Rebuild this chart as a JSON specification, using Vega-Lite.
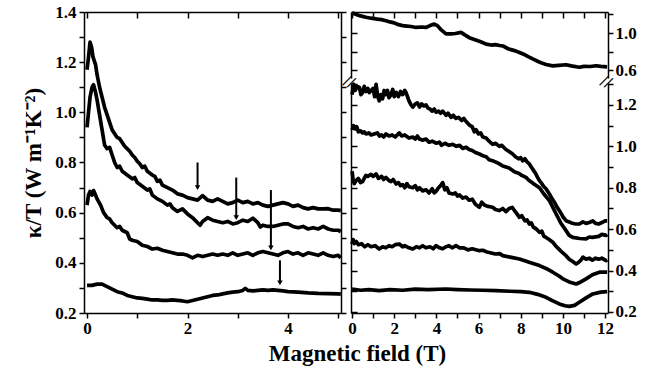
{
  "$schema": "https://vega.github.io/schema/vega-lite/v6.json",
  "background": "white",
  "padding": {"left": 22, "top": 3, "right": 5, "bottom": 5},
  "config": {
    "view": {"stroke": null},
    "font": "Times New Roman",
    "axis": {
      "grid": false,
      "labelFont": "Times New Roman",
      "labelFontWeight": "bold",
      "labelFontSize": 17,
      "labelColor": "black",
      "tickColor": "black",
      "tickWidth": 1.5,
      "domainColor": "black",
      "domainWidth": 1.5,
      "titleFont": "Times New Roman",
      "titleFontWeight": "bold",
      "titleFontSize": 23,
      "titleColor": "black"
    },
    "title": {"font": "Times New Roman"},
    "line": {"color": "black", "strokeWidth": 3.7, "strokeJoin": "round"}
  },
  "title": {
    "text": "Magnetic field (T)",
    "orient": "bottom",
    "anchor": "middle",
    "font": "Times New Roman",
    "fontSize": 23,
    "fontWeight": "bold",
    "color": "black",
    "offset": 7,
    "dx": 28
  },
  "datasets": {
    "left": [
      {"B": 0, "k": 1.17, "c": "a1"}, {"B": 0.03, "k": 1.22, "c": "a1"}, {"B": 0.06, "k": 1.28, "c": "a1"}, {"B": 0.09, "k": 1.26, "c": "a1"}, {"B": 0.12, "k": 1.22, "c": "a1"}, {"B": 0.17, "k": 1.19, "c": "a1"}, {"B": 0.2, "k": 1.15, "c": "a1"}, {"B": 0.25, "k": 1.1, "c": "a1"}, {"B": 0.3, "k": 1.06, "c": "a1"}, {"B": 0.35, "k": 1.02, "c": "a1"}, {"B": 0.4, "k": 0.99, "c": "a1"}, {"B": 0.45, "k": 0.96, "c": "a1"}, {"B": 0.5, "k": 0.93, "c": "a1"}, {"B": 0.55, "k": 0.915, "c": "a1"}, {"B": 0.6, "k": 0.9, "c": "a1"}, {"B": 0.65, "k": 0.895, "c": "a1"}, {"B": 0.7, "k": 0.88, "c": "a1"}, {"B": 0.75, "k": 0.865, "c": "a1"}, {"B": 0.8, "k": 0.855, "c": "a1"}, {"B": 0.85, "k": 0.845, "c": "a1"}, {"B": 0.9, "k": 0.83, "c": "a1"}, {"B": 0.95, "k": 0.82, "c": "a1"}, {"B": 1.0, "k": 0.805, "c": "a1"}, {"B": 1.05, "k": 0.795, "c": "a1"}, {"B": 1.1, "k": 0.78, "c": "a1"}, {"B": 1.15, "k": 0.785, "c": "a1"}, {"B": 1.2, "k": 0.765, "c": "a1"}, {"B": 1.3, "k": 0.75, "c": "a1"}, {"B": 1.35, "k": 0.745, "c": "a1"}, {"B": 1.4, "k": 0.725, "c": "a1"}, {"B": 1.45, "k": 0.73, "c": "a1"}, {"B": 1.5, "k": 0.71, "c": "a1"}, {"B": 1.6, "k": 0.7, "c": "a1"}, {"B": 1.7, "k": 0.69, "c": "a1"}, {"B": 1.8, "k": 0.675, "c": "a1"}, {"B": 1.9, "k": 0.67, "c": "a1"}, {"B": 2.0, "k": 0.66, "c": "a1"}, {"B": 2.1, "k": 0.655, "c": "a1"}, {"B": 2.2, "k": 0.65, "c": "a1"}, {"B": 2.3, "k": 0.668, "c": "a1"}, {"B": 2.4, "k": 0.65, "c": "a1"}, {"B": 2.5, "k": 0.645, "c": "a1"}, {"B": 2.6, "k": 0.655, "c": "a1"}, {"B": 2.7, "k": 0.645, "c": "a1"}, {"B": 2.8, "k": 0.635, "c": "a1"}, {"B": 2.9, "k": 0.64, "c": "a1"}, {"B": 3.0, "k": 0.65, "c": "a1"}, {"B": 3.1, "k": 0.64, "c": "a1"}, {"B": 3.2, "k": 0.645, "c": "a1"}, {"B": 3.3, "k": 0.635, "c": "a1"}, {"B": 3.4, "k": 0.64, "c": "a1"}, {"B": 3.5, "k": 0.63, "c": "a1"}, {"B": 3.6, "k": 0.625, "c": "a1"}, {"B": 3.7, "k": 0.63, "c": "a1"}, {"B": 3.8, "k": 0.635, "c": "a1"}, {"B": 3.9, "k": 0.64, "c": "a1"}, {"B": 4.0, "k": 0.635, "c": "a1"}, {"B": 4.1, "k": 0.625, "c": "a1"}, {"B": 4.2, "k": 0.63, "c": "a1"}, {"B": 4.3, "k": 0.62, "c": "a1"}, {"B": 4.4, "k": 0.615, "c": "a1"}, {"B": 4.5, "k": 0.62, "c": "a1"}, {"B": 4.6, "k": 0.615, "c": "a1"}, {"B": 4.7, "k": 0.615, "c": "a1"}, {"B": 4.8, "k": 0.616, "c": "a1"}, {"B": 4.9, "k": 0.61, "c": "a1"}, {"B": 5.0, "k": 0.61, "c": "a1"}, {"B": 5.05, "k": 0.608, "c": "a1"},
      {"B": 0, "k": 0.94, "c": "a2"}, {"B": 0.03, "k": 1.0, "c": "a2"}, {"B": 0.06, "k": 1.06, "c": "a2"}, {"B": 0.1, "k": 1.1, "c": "a2"}, {"B": 0.13, "k": 1.11, "c": "a2"}, {"B": 0.17, "k": 1.08, "c": "a2"}, {"B": 0.2, "k": 1.05, "c": "a2"}, {"B": 0.25, "k": 0.99, "c": "a2"}, {"B": 0.3, "k": 0.93, "c": "a2"}, {"B": 0.35, "k": 0.87, "c": "a2"}, {"B": 0.4, "k": 0.855, "c": "a2"}, {"B": 0.45, "k": 0.86, "c": "a2"}, {"B": 0.5, "k": 0.83, "c": "a2"}, {"B": 0.55, "k": 0.8, "c": "a2"}, {"B": 0.6, "k": 0.78, "c": "a2"}, {"B": 0.65, "k": 0.785, "c": "a2"}, {"B": 0.7, "k": 0.765, "c": "a2"}, {"B": 0.8, "k": 0.75, "c": "a2"}, {"B": 0.9, "k": 0.735, "c": "a2"}, {"B": 0.95, "k": 0.74, "c": "a2"}, {"B": 1.0, "k": 0.72, "c": "a2"}, {"B": 1.1, "k": 0.705, "c": "a2"}, {"B": 1.2, "k": 0.69, "c": "a2"}, {"B": 1.25, "k": 0.695, "c": "a2"}, {"B": 1.3, "k": 0.67, "c": "a2"}, {"B": 1.4, "k": 0.655, "c": "a2"}, {"B": 1.5, "k": 0.645, "c": "a2"}, {"B": 1.6, "k": 0.63, "c": "a2"}, {"B": 1.65, "k": 0.635, "c": "a2"}, {"B": 1.7, "k": 0.62, "c": "a2"}, {"B": 1.8, "k": 0.605, "c": "a2"}, {"B": 1.9, "k": 0.615, "c": "a2"}, {"B": 2.0, "k": 0.595, "c": "a2"}, {"B": 2.1, "k": 0.58, "c": "a2"}, {"B": 2.2, "k": 0.56, "c": "a2"}, {"B": 2.25, "k": 0.55, "c": "a2"}, {"B": 2.3, "k": 0.565, "c": "a2"}, {"B": 2.4, "k": 0.58, "c": "a2"}, {"B": 2.5, "k": 0.57, "c": "a2"}, {"B": 2.6, "k": 0.565, "c": "a2"}, {"B": 2.7, "k": 0.56, "c": "a2"}, {"B": 2.8, "k": 0.565, "c": "a2"}, {"B": 2.9, "k": 0.555, "c": "a2"}, {"B": 3.0, "k": 0.56, "c": "a2"}, {"B": 3.1, "k": 0.57, "c": "a2"}, {"B": 3.2, "k": 0.565, "c": "a2"}, {"B": 3.3, "k": 0.578, "c": "a2"}, {"B": 3.4, "k": 0.56, "c": "a2"}, {"B": 3.45, "k": 0.543, "c": "a2"}, {"B": 3.5, "k": 0.55, "c": "a2"}, {"B": 3.6, "k": 0.545, "c": "a2"}, {"B": 3.7, "k": 0.545, "c": "a2"}, {"B": 3.8, "k": 0.55, "c": "a2"}, {"B": 3.9, "k": 0.555, "c": "a2"}, {"B": 4.0, "k": 0.555, "c": "a2"}, {"B": 4.1, "k": 0.545, "c": "a2"}, {"B": 4.2, "k": 0.54, "c": "a2"}, {"B": 4.3, "k": 0.545, "c": "a2"}, {"B": 4.4, "k": 0.535, "c": "a2"}, {"B": 4.5, "k": 0.54, "c": "a2"}, {"B": 4.6, "k": 0.535, "c": "a2"}, {"B": 4.7, "k": 0.545, "c": "a2"}, {"B": 4.8, "k": 0.535, "c": "a2"}, {"B": 4.9, "k": 0.53, "c": "a2"}, {"B": 5.0, "k": 0.53, "c": "a2"}, {"B": 5.05, "k": 0.525, "c": "a2"},
      {"B": 0, "k": 0.63, "c": "a3"}, {"B": 0.03, "k": 0.67, "c": "a3"}, {"B": 0.06, "k": 0.685, "c": "a3"}, {"B": 0.1, "k": 0.67, "c": "a3"}, {"B": 0.13, "k": 0.688, "c": "a3"}, {"B": 0.17, "k": 0.67, "c": "a3"}, {"B": 0.2, "k": 0.655, "c": "a3"}, {"B": 0.27, "k": 0.63, "c": "a3"}, {"B": 0.33, "k": 0.6, "c": "a3"}, {"B": 0.4, "k": 0.58, "c": "a3"}, {"B": 0.45, "k": 0.575, "c": "a3"}, {"B": 0.5, "k": 0.56, "c": "a3"}, {"B": 0.6, "k": 0.54, "c": "a3"}, {"B": 0.65, "k": 0.545, "c": "a3"}, {"B": 0.7, "k": 0.53, "c": "a3"}, {"B": 0.8, "k": 0.52, "c": "a3"}, {"B": 0.85, "k": 0.495, "c": "a3"}, {"B": 0.9, "k": 0.49, "c": "a3"}, {"B": 1.0, "k": 0.485, "c": "a3"}, {"B": 1.1, "k": 0.47, "c": "a3"}, {"B": 1.2, "k": 0.465, "c": "a3"}, {"B": 1.3, "k": 0.455, "c": "a3"}, {"B": 1.4, "k": 0.458, "c": "a3"}, {"B": 1.5, "k": 0.45, "c": "a3"}, {"B": 1.6, "k": 0.445, "c": "a3"}, {"B": 1.7, "k": 0.44, "c": "a3"}, {"B": 1.8, "k": 0.435, "c": "a3"}, {"B": 1.9, "k": 0.435, "c": "a3"}, {"B": 2.0, "k": 0.43, "c": "a3"}, {"B": 2.1, "k": 0.42, "c": "a3"}, {"B": 2.2, "k": 0.43, "c": "a3"}, {"B": 2.3, "k": 0.425, "c": "a3"}, {"B": 2.4, "k": 0.43, "c": "a3"}, {"B": 2.5, "k": 0.435, "c": "a3"}, {"B": 2.6, "k": 0.43, "c": "a3"}, {"B": 2.7, "k": 0.435, "c": "a3"}, {"B": 2.8, "k": 0.43, "c": "a3"}, {"B": 2.9, "k": 0.44, "c": "a3"}, {"B": 3.0, "k": 0.43, "c": "a3"}, {"B": 3.1, "k": 0.435, "c": "a3"}, {"B": 3.2, "k": 0.44, "c": "a3"}, {"B": 3.3, "k": 0.43, "c": "a3"}, {"B": 3.4, "k": 0.44, "c": "a3"}, {"B": 3.5, "k": 0.445, "c": "a3"}, {"B": 3.6, "k": 0.44, "c": "a3"}, {"B": 3.7, "k": 0.435, "c": "a3"}, {"B": 3.8, "k": 0.43, "c": "a3"}, {"B": 3.9, "k": 0.44, "c": "a3"}, {"B": 4.0, "k": 0.445, "c": "a3"}, {"B": 4.1, "k": 0.435, "c": "a3"}, {"B": 4.2, "k": 0.44, "c": "a3"}, {"B": 4.3, "k": 0.43, "c": "a3"}, {"B": 4.4, "k": 0.44, "c": "a3"}, {"B": 4.5, "k": 0.435, "c": "a3"}, {"B": 4.6, "k": 0.43, "c": "a3"}, {"B": 4.7, "k": 0.44, "c": "a3"}, {"B": 4.8, "k": 0.43, "c": "a3"}, {"B": 4.9, "k": 0.425, "c": "a3"}, {"B": 5.0, "k": 0.43, "c": "a3"}, {"B": 5.05, "k": 0.42, "c": "a3"},
      {"B": 0, "k": 0.31, "c": "a4"}, {"B": 0.1, "k": 0.31, "c": "a4"}, {"B": 0.2, "k": 0.315, "c": "a4"}, {"B": 0.3, "k": 0.315, "c": "a4"}, {"B": 0.4, "k": 0.305, "c": "a4"}, {"B": 0.5, "k": 0.295, "c": "a4"}, {"B": 0.6, "k": 0.285, "c": "a4"}, {"B": 0.7, "k": 0.28, "c": "a4"}, {"B": 0.8, "k": 0.27, "c": "a4"}, {"B": 0.9, "k": 0.265, "c": "a4"}, {"B": 1.0, "k": 0.26, "c": "a4"}, {"B": 1.1, "k": 0.258, "c": "a4"}, {"B": 1.2, "k": 0.255, "c": "a4"}, {"B": 1.3, "k": 0.252, "c": "a4"}, {"B": 1.4, "k": 0.252, "c": "a4"}, {"B": 1.5, "k": 0.25, "c": "a4"}, {"B": 1.6, "k": 0.25, "c": "a4"}, {"B": 1.7, "k": 0.252, "c": "a4"}, {"B": 1.8, "k": 0.25, "c": "a4"}, {"B": 1.9, "k": 0.248, "c": "a4"}, {"B": 2.0, "k": 0.245, "c": "a4"}, {"B": 2.1, "k": 0.25, "c": "a4"}, {"B": 2.2, "k": 0.255, "c": "a4"}, {"B": 2.3, "k": 0.26, "c": "a4"}, {"B": 2.4, "k": 0.265, "c": "a4"}, {"B": 2.5, "k": 0.27, "c": "a4"}, {"B": 2.6, "k": 0.272, "c": "a4"}, {"B": 2.7, "k": 0.276, "c": "a4"}, {"B": 2.8, "k": 0.28, "c": "a4"}, {"B": 2.9, "k": 0.283, "c": "a4"}, {"B": 3.0, "k": 0.285, "c": "a4"}, {"B": 3.1, "k": 0.29, "c": "a4"}, {"B": 3.15, "k": 0.298, "c": "a4"}, {"B": 3.2, "k": 0.29, "c": "a4"}, {"B": 3.3, "k": 0.288, "c": "a4"}, {"B": 3.4, "k": 0.29, "c": "a4"}, {"B": 3.5, "k": 0.292, "c": "a4"}, {"B": 3.6, "k": 0.29, "c": "a4"}, {"B": 3.7, "k": 0.292, "c": "a4"}, {"B": 3.8, "k": 0.29, "c": "a4"}, {"B": 3.9, "k": 0.288, "c": "a4"}, {"B": 4.0, "k": 0.285, "c": "a4"}, {"B": 4.2, "k": 0.283, "c": "a4"}, {"B": 4.4, "k": 0.28, "c": "a4"}, {"B": 4.6, "k": 0.278, "c": "a4"}, {"B": 4.8, "k": 0.277, "c": "a4"}, {"B": 5.0, "k": 0.276, "c": "a4"}, {"B": 5.05, "k": 0.275, "c": "a4"}
    ],
    "arrows": [
      {"x": 2.2, "y1": 0.8, "y2": 0.7},
      {"x": 2.97, "y1": 0.74, "y2": 0.58},
      {"x": 3.66, "y1": 0.69, "y2": 0.46},
      {"x": 3.84, "y1": 0.41, "y2": 0.32}
    ],
    "upper": [
      {"B": 0, "k": 1.22}, {"B": 0.2, "k": 1.2}, {"B": 0.4, "k": 1.185}, {"B": 0.66, "k": 1.17}, {"B": 0.9, "k": 1.16}, {"B": 1.2, "k": 1.15}, {"B": 1.4, "k": 1.145}, {"B": 1.61, "k": 1.133}, {"B": 1.8, "k": 1.12}, {"B": 2.0, "k": 1.11}, {"B": 2.2, "k": 1.09}, {"B": 2.4, "k": 1.08}, {"B": 2.6, "k": 1.075}, {"B": 2.8, "k": 1.07}, {"B": 3.04, "k": 1.06}, {"B": 3.3, "k": 1.065}, {"B": 3.5, "k": 1.06}, {"B": 3.7, "k": 1.08}, {"B": 3.9, "k": 1.097}, {"B": 4.05, "k": 1.08}, {"B": 4.2, "k": 1.04}, {"B": 4.46, "k": 0.99}, {"B": 4.7, "k": 0.99}, {"B": 4.9, "k": 0.995}, {"B": 5.17, "k": 1.007}, {"B": 5.35, "k": 0.98}, {"B": 5.56, "k": 0.95}, {"B": 5.8, "k": 0.93}, {"B": 6.1, "k": 0.905}, {"B": 6.36, "k": 0.88}, {"B": 6.6, "k": 0.87}, {"B": 6.8, "k": 0.875}, {"B": 7.0, "k": 0.865}, {"B": 7.15, "k": 0.86}, {"B": 7.4, "k": 0.83}, {"B": 7.7, "k": 0.81}, {"B": 7.94, "k": 0.79}, {"B": 8.2, "k": 0.765}, {"B": 8.4, "k": 0.74}, {"B": 8.57, "k": 0.72}, {"B": 8.8, "k": 0.695}, {"B": 9.0, "k": 0.675}, {"B": 9.2, "k": 0.66}, {"B": 9.52, "k": 0.645}, {"B": 9.8, "k": 0.65}, {"B": 10.15, "k": 0.657}, {"B": 10.4, "k": 0.645}, {"B": 10.78, "k": 0.63}, {"B": 11.0, "k": 0.64}, {"B": 11.3, "k": 0.638}, {"B": 11.57, "k": 0.646}, {"B": 11.8, "k": 0.64}, {"B": 12.1, "k": 0.635}
    ],
    "lower": [
      {"B": 0, "k": 1.25, "c": "b1"}, {"B": 0.08, "k": 1.3, "c": "b1"}, {"B": 0.15, "k": 1.27, "c": "b1"}, {"B": 0.25, "k": 1.29, "c": "b1"}, {"B": 0.35, "k": 1.285, "c": "b1"}, {"B": 0.42, "k": 1.25, "c": "b1"}, {"B": 0.5, "k": 1.26, "c": "b1"}, {"B": 0.58, "k": 1.29, "c": "b1"}, {"B": 0.66, "k": 1.265, "c": "b1"}, {"B": 0.75, "k": 1.28, "c": "b1"}, {"B": 0.82, "k": 1.26, "c": "b1"}, {"B": 0.9, "k": 1.27, "c": "b1"}, {"B": 1.0, "k": 1.28, "c": "b1"}, {"B": 1.07, "k": 1.24, "c": "b1"}, {"B": 1.14, "k": 1.3, "c": "b1"}, {"B": 1.22, "k": 1.24, "c": "b1"}, {"B": 1.29, "k": 1.22, "c": "b1"}, {"B": 1.37, "k": 1.25, "c": "b1"}, {"B": 1.45, "k": 1.23, "c": "b1"}, {"B": 1.52, "k": 1.27, "c": "b1"}, {"B": 1.6, "k": 1.25, "c": "b1"}, {"B": 1.68, "k": 1.27, "c": "b1"}, {"B": 1.75, "k": 1.235, "c": "b1"}, {"B": 1.85, "k": 1.25, "c": "b1"}, {"B": 1.93, "k": 1.275, "c": "b1"}, {"B": 2.0, "k": 1.24, "c": "b1"}, {"B": 2.1, "k": 1.26, "c": "b1"}, {"B": 2.2, "k": 1.24, "c": "b1"}, {"B": 2.3, "k": 1.265, "c": "b1"}, {"B": 2.4, "k": 1.25, "c": "b1"}, {"B": 2.5, "k": 1.27, "c": "b1"}, {"B": 2.56, "k": 1.26, "c": "b1"}, {"B": 2.63, "k": 1.24, "c": "b1"}, {"B": 2.7, "k": 1.22, "c": "b1"}, {"B": 2.8, "k": 1.2, "c": "b1"}, {"B": 2.88, "k": 1.19, "c": "b1"}, {"B": 3.0, "k": 1.205, "c": "b1"}, {"B": 3.1, "k": 1.21, "c": "b1"}, {"B": 3.2, "k": 1.19, "c": "b1"}, {"B": 3.3, "k": 1.205, "c": "b1"}, {"B": 3.4, "k": 1.195, "c": "b1"}, {"B": 3.51, "k": 1.2, "c": "b1"}, {"B": 3.6, "k": 1.185, "c": "b1"}, {"B": 3.7, "k": 1.18, "c": "b1"}, {"B": 3.8, "k": 1.17, "c": "b1"}, {"B": 3.9, "k": 1.18, "c": "b1"}, {"B": 3.98, "k": 1.165, "c": "b1"}, {"B": 4.1, "k": 1.17, "c": "b1"}, {"B": 4.2, "k": 1.16, "c": "b1"}, {"B": 4.3, "k": 1.17, "c": "b1"}, {"B": 4.46, "k": 1.15, "c": "b1"}, {"B": 4.55, "k": 1.16, "c": "b1"}, {"B": 4.7, "k": 1.14, "c": "b1"}, {"B": 4.8, "k": 1.15, "c": "b1"}, {"B": 4.93, "k": 1.135, "c": "b1"}, {"B": 5.05, "k": 1.14, "c": "b1"}, {"B": 5.2, "k": 1.125, "c": "b1"}, {"B": 5.3, "k": 1.135, "c": "b1"}, {"B": 5.41, "k": 1.12, "c": "b1"}, {"B": 5.5, "k": 1.11, "c": "b1"}, {"B": 5.6, "k": 1.1, "c": "b1"}, {"B": 5.7, "k": 1.095, "c": "b1"}, {"B": 5.8, "k": 1.07, "c": "b1"}, {"B": 5.88, "k": 1.08, "c": "b1"}, {"B": 6.0, "k": 1.06, "c": "b1"}, {"B": 6.1, "k": 1.065, "c": "b1"}, {"B": 6.2, "k": 1.045, "c": "b1"}, {"B": 6.36, "k": 1.04, "c": "b1"}, {"B": 6.5, "k": 1.025, "c": "b1"}, {"B": 6.67, "k": 1.01, "c": "b1"}, {"B": 6.8, "k": 1.015, "c": "b1"}, {"B": 6.99, "k": 1.0, "c": "b1"}, {"B": 7.1, "k": 1.005, "c": "b1"}, {"B": 7.3, "k": 0.985, "c": "b1"}, {"B": 7.45, "k": 0.975, "c": "b1"}, {"B": 7.62, "k": 0.963, "c": "b1"}, {"B": 7.75, "k": 0.95, "c": "b1"}, {"B": 7.9, "k": 0.94, "c": "b1"}, {"B": 8.0, "k": 0.945, "c": "b1"}, {"B": 8.1, "k": 0.93, "c": "b1"}, {"B": 8.2, "k": 0.94, "c": "b1"}, {"B": 8.3, "k": 0.925, "c": "b1"}, {"B": 8.41, "k": 0.915, "c": "b1"}, {"B": 8.5, "k": 0.9, "c": "b1"}, {"B": 8.6, "k": 0.885, "c": "b1"}, {"B": 8.7, "k": 0.87, "c": "b1"}, {"B": 8.8, "k": 0.85, "c": "b1"}, {"B": 8.89, "k": 0.834, "c": "b1"}, {"B": 9.0, "k": 0.82, "c": "b1"}, {"B": 9.1, "k": 0.805, "c": "b1"}, {"B": 9.2, "k": 0.795, "c": "b1"}, {"B": 9.36, "k": 0.77, "c": "b1"}, {"B": 9.5, "k": 0.745, "c": "b1"}, {"B": 9.6, "k": 0.73, "c": "b1"}, {"B": 9.7, "k": 0.71, "c": "b1"}, {"B": 9.83, "k": 0.69, "c": "b1"}, {"B": 9.92, "k": 0.675, "c": "b1"}, {"B": 10.0, "k": 0.66, "c": "b1"}, {"B": 10.15, "k": 0.641, "c": "b1"}, {"B": 10.3, "k": 0.635, "c": "b1"}, {"B": 10.4, "k": 0.63, "c": "b1"}, {"B": 10.6, "k": 0.625, "c": "b1"}, {"B": 10.78, "k": 0.625, "c": "b1"}, {"B": 10.95, "k": 0.635, "c": "b1"}, {"B": 11.1, "k": 0.628, "c": "b1"}, {"B": 11.25, "k": 0.632, "c": "b1"}, {"B": 11.42, "k": 0.64, "c": "b1"}, {"B": 11.55, "k": 0.628, "c": "b1"}, {"B": 11.7, "k": 0.625, "c": "b1"}, {"B": 11.85, "k": 0.632, "c": "b1"}, {"B": 12.0, "k": 0.64, "c": "b1"}, {"B": 12.1, "k": 0.64, "c": "b1"},
      {"B": 0, "k": 1.08, "c": "b2"}, {"B": 0.07, "k": 1.1, "c": "b2"}, {"B": 0.15, "k": 1.085, "c": "b2"}, {"B": 0.22, "k": 1.095, "c": "b2"}, {"B": 0.3, "k": 1.07, "c": "b2"}, {"B": 0.4, "k": 1.075, "c": "b2"}, {"B": 0.5, "k": 1.065, "c": "b2"}, {"B": 0.58, "k": 1.07, "c": "b2"}, {"B": 0.66, "k": 1.06, "c": "b2"}, {"B": 0.8, "k": 1.065, "c": "b2"}, {"B": 0.9, "k": 1.055, "c": "b2"}, {"B": 1.05, "k": 1.06, "c": "b2"}, {"B": 1.2, "k": 1.065, "c": "b2"}, {"B": 1.3, "k": 1.05, "c": "b2"}, {"B": 1.4, "k": 1.055, "c": "b2"}, {"B": 1.5, "k": 1.045, "c": "b2"}, {"B": 1.61, "k": 1.06, "c": "b2"}, {"B": 1.75, "k": 1.05, "c": "b2"}, {"B": 1.9, "k": 1.055, "c": "b2"}, {"B": 2.05, "k": 1.045, "c": "b2"}, {"B": 2.24, "k": 1.065, "c": "b2"}, {"B": 2.35, "k": 1.05, "c": "b2"}, {"B": 2.5, "k": 1.055, "c": "b2"}, {"B": 2.7, "k": 1.04, "c": "b2"}, {"B": 2.88, "k": 1.045, "c": "b2"}, {"B": 3.0, "k": 1.035, "c": "b2"}, {"B": 3.1, "k": 1.05, "c": "b2"}, {"B": 3.2, "k": 1.035, "c": "b2"}, {"B": 3.35, "k": 1.03, "c": "b2"}, {"B": 3.51, "k": 1.035, "c": "b2"}, {"B": 3.65, "k": 1.02, "c": "b2"}, {"B": 3.8, "k": 1.025, "c": "b2"}, {"B": 4.0, "k": 1.015, "c": "b2"}, {"B": 4.14, "k": 1.02, "c": "b2"}, {"B": 4.25, "k": 1.005, "c": "b2"}, {"B": 4.4, "k": 1.015, "c": "b2"}, {"B": 4.6, "k": 1.005, "c": "b2"}, {"B": 4.78, "k": 1.01, "c": "b2"}, {"B": 4.95, "k": 1.0, "c": "b2"}, {"B": 5.1, "k": 1.005, "c": "b2"}, {"B": 5.25, "k": 0.99, "c": "b2"}, {"B": 5.41, "k": 0.996, "c": "b2"}, {"B": 5.55, "k": 0.985, "c": "b2"}, {"B": 5.7, "k": 0.98, "c": "b2"}, {"B": 5.85, "k": 0.97, "c": "b2"}, {"B": 6.04, "k": 0.963, "c": "b2"}, {"B": 6.2, "k": 0.955, "c": "b2"}, {"B": 6.36, "k": 0.95, "c": "b2"}, {"B": 6.5, "k": 0.935, "c": "b2"}, {"B": 6.67, "k": 0.93, "c": "b2"}, {"B": 6.8, "k": 0.925, "c": "b2"}, {"B": 6.99, "k": 0.915, "c": "b2"}, {"B": 7.15, "k": 0.905, "c": "b2"}, {"B": 7.3, "k": 0.9, "c": "b2"}, {"B": 7.45, "k": 0.895, "c": "b2"}, {"B": 7.62, "k": 0.883, "c": "b2"}, {"B": 7.75, "k": 0.875, "c": "b2"}, {"B": 7.9, "k": 0.87, "c": "b2"}, {"B": 8.05, "k": 0.86, "c": "b2"}, {"B": 8.25, "k": 0.85, "c": "b2"}, {"B": 8.4, "k": 0.835, "c": "b2"}, {"B": 8.6, "k": 0.82, "c": "b2"}, {"B": 8.75, "k": 0.81, "c": "b2"}, {"B": 8.89, "k": 0.8, "c": "b2"}, {"B": 9.1, "k": 0.77, "c": "b2"}, {"B": 9.36, "k": 0.738, "c": "b2"}, {"B": 9.5, "k": 0.71, "c": "b2"}, {"B": 9.68, "k": 0.673, "c": "b2"}, {"B": 9.9, "k": 0.63, "c": "b2"}, {"B": 10.15, "k": 0.593, "c": "b2"}, {"B": 10.3, "k": 0.57, "c": "b2"}, {"B": 10.47, "k": 0.56, "c": "b2"}, {"B": 10.8, "k": 0.555, "c": "b2"}, {"B": 11.1, "k": 0.553, "c": "b2"}, {"B": 11.25, "k": 0.562, "c": "b2"}, {"B": 11.4, "k": 0.56, "c": "b2"}, {"B": 11.7, "k": 0.565, "c": "b2"}, {"B": 11.85, "k": 0.575, "c": "b2"}, {"B": 12.05, "k": 0.57, "c": "b2"}, {"B": 12.1, "k": 0.575, "c": "b2"},
      {"B": 0, "k": 0.88, "c": "b3"}, {"B": 0.05, "k": 0.84, "c": "b3"}, {"B": 0.1, "k": 0.82, "c": "b3"}, {"B": 0.2, "k": 0.835, "c": "b3"}, {"B": 0.3, "k": 0.845, "c": "b3"}, {"B": 0.4, "k": 0.825, "c": "b3"}, {"B": 0.5, "k": 0.83, "c": "b3"}, {"B": 0.6, "k": 0.85, "c": "b3"}, {"B": 0.66, "k": 0.86, "c": "b3"}, {"B": 0.75, "k": 0.855, "c": "b3"}, {"B": 0.9, "k": 0.865, "c": "b3"}, {"B": 1.0, "k": 0.855, "c": "b3"}, {"B": 1.14, "k": 0.867, "c": "b3"}, {"B": 1.25, "k": 0.845, "c": "b3"}, {"B": 1.4, "k": 0.855, "c": "b3"}, {"B": 1.5, "k": 0.84, "c": "b3"}, {"B": 1.61, "k": 0.85, "c": "b3"}, {"B": 1.75, "k": 0.835, "c": "b3"}, {"B": 1.85, "k": 0.83, "c": "b3"}, {"B": 1.95, "k": 0.84, "c": "b3"}, {"B": 2.09, "k": 0.818, "c": "b3"}, {"B": 2.2, "k": 0.825, "c": "b3"}, {"B": 2.3, "k": 0.81, "c": "b3"}, {"B": 2.4, "k": 0.815, "c": "b3"}, {"B": 2.5, "k": 0.8, "c": "b3"}, {"B": 2.6, "k": 0.82, "c": "b3"}, {"B": 2.7, "k": 0.805, "c": "b3"}, {"B": 2.88, "k": 0.8, "c": "b3"}, {"B": 3.0, "k": 0.81, "c": "b3"}, {"B": 3.1, "k": 0.79, "c": "b3"}, {"B": 3.2, "k": 0.8, "c": "b3"}, {"B": 3.35, "k": 0.785, "c": "b3"}, {"B": 3.51, "k": 0.79, "c": "b3"}, {"B": 3.65, "k": 0.775, "c": "b3"}, {"B": 3.8, "k": 0.795, "c": "b3"}, {"B": 3.9, "k": 0.775, "c": "b3"}, {"B": 4.0, "k": 0.785, "c": "b3"}, {"B": 4.1, "k": 0.8, "c": "b3"}, {"B": 4.2, "k": 0.81, "c": "b3"}, {"B": 4.3, "k": 0.825, "c": "b3"}, {"B": 4.4, "k": 0.79, "c": "b3"}, {"B": 4.5, "k": 0.8, "c": "b3"}, {"B": 4.6, "k": 0.775, "c": "b3"}, {"B": 4.78, "k": 0.77, "c": "b3"}, {"B": 4.9, "k": 0.775, "c": "b3"}, {"B": 5.0, "k": 0.76, "c": "b3"}, {"B": 5.1, "k": 0.765, "c": "b3"}, {"B": 5.25, "k": 0.75, "c": "b3"}, {"B": 5.41, "k": 0.755, "c": "b3"}, {"B": 5.55, "k": 0.74, "c": "b3"}, {"B": 5.7, "k": 0.745, "c": "b3"}, {"B": 5.85, "k": 0.72, "c": "b3"}, {"B": 6.04, "k": 0.706, "c": "b3"}, {"B": 6.15, "k": 0.73, "c": "b3"}, {"B": 6.3, "k": 0.715, "c": "b3"}, {"B": 6.45, "k": 0.71, "c": "b3"}, {"B": 6.67, "k": 0.706, "c": "b3"}, {"B": 6.8, "k": 0.695, "c": "b3"}, {"B": 6.99, "k": 0.69, "c": "b3"}, {"B": 7.15, "k": 0.7, "c": "b3"}, {"B": 7.3, "k": 0.685, "c": "b3"}, {"B": 7.45, "k": 0.7, "c": "b3"}, {"B": 7.6, "k": 0.705, "c": "b3"}, {"B": 7.7, "k": 0.69, "c": "b3"}, {"B": 7.78, "k": 0.68, "c": "b3"}, {"B": 7.94, "k": 0.657, "c": "b3"}, {"B": 8.05, "k": 0.665, "c": "b3"}, {"B": 8.2, "k": 0.64, "c": "b3"}, {"B": 8.3, "k": 0.645, "c": "b3"}, {"B": 8.41, "k": 0.625, "c": "b3"}, {"B": 8.5, "k": 0.63, "c": "b3"}, {"B": 8.6, "k": 0.61, "c": "b3"}, {"B": 8.75, "k": 0.6, "c": "b3"}, {"B": 8.89, "k": 0.585, "c": "b3"}, {"B": 9.0, "k": 0.59, "c": "b3"}, {"B": 9.1, "k": 0.565, "c": "b3"}, {"B": 9.2, "k": 0.56, "c": "b3"}, {"B": 9.35, "k": 0.55, "c": "b3"}, {"B": 9.52, "k": 0.537, "c": "b3"}, {"B": 9.65, "k": 0.52, "c": "b3"}, {"B": 9.8, "k": 0.505, "c": "b3"}, {"B": 10.0, "k": 0.485, "c": "b3"}, {"B": 10.15, "k": 0.472, "c": "b3"}, {"B": 10.3, "k": 0.455, "c": "b3"}, {"B": 10.45, "k": 0.445, "c": "b3"}, {"B": 10.63, "k": 0.432, "c": "b3"}, {"B": 10.75, "k": 0.44, "c": "b3"}, {"B": 10.85, "k": 0.45, "c": "b3"}, {"B": 10.95, "k": 0.465, "c": "b3"}, {"B": 11.1, "k": 0.455, "c": "b3"}, {"B": 11.25, "k": 0.46, "c": "b3"}, {"B": 11.4, "k": 0.45, "c": "b3"}, {"B": 11.55, "k": 0.46, "c": "b3"}, {"B": 11.7, "k": 0.455, "c": "b3"}, {"B": 11.85, "k": 0.46, "c": "b3"}, {"B": 12.05, "k": 0.448, "c": "b3"}, {"B": 12.1, "k": 0.452, "c": "b3"},
      {"B": 0, "k": 0.528, "c": "b4"}, {"B": 0.05, "k": 0.55, "c": "b4"}, {"B": 0.1, "k": 0.53, "c": "b4"}, {"B": 0.2, "k": 0.54, "c": "b4"}, {"B": 0.3, "k": 0.525, "c": "b4"}, {"B": 0.45, "k": 0.53, "c": "b4"}, {"B": 0.6, "k": 0.515, "c": "b4"}, {"B": 0.75, "k": 0.525, "c": "b4"}, {"B": 0.9, "k": 0.515, "c": "b4"}, {"B": 1.1, "k": 0.52, "c": "b4"}, {"B": 1.29, "k": 0.504, "c": "b4"}, {"B": 1.45, "k": 0.515, "c": "b4"}, {"B": 1.6, "k": 0.51, "c": "b4"}, {"B": 1.75, "k": 0.52, "c": "b4"}, {"B": 1.9, "k": 0.515, "c": "b4"}, {"B": 2.05, "k": 0.525, "c": "b4"}, {"B": 2.24, "k": 0.528, "c": "b4"}, {"B": 2.4, "k": 0.515, "c": "b4"}, {"B": 2.5, "k": 0.52, "c": "b4"}, {"B": 2.7, "k": 0.51, "c": "b4"}, {"B": 2.88, "k": 0.504, "c": "b4"}, {"B": 3.05, "k": 0.515, "c": "b4"}, {"B": 3.2, "k": 0.51, "c": "b4"}, {"B": 3.35, "k": 0.52, "c": "b4"}, {"B": 3.5, "k": 0.51, "c": "b4"}, {"B": 3.7, "k": 0.515, "c": "b4"}, {"B": 3.85, "k": 0.505, "c": "b4"}, {"B": 3.98, "k": 0.52, "c": "b4"}, {"B": 4.15, "k": 0.51, "c": "b4"}, {"B": 4.3, "k": 0.505, "c": "b4"}, {"B": 4.45, "k": 0.515, "c": "b4"}, {"B": 4.6, "k": 0.52, "c": "b4"}, {"B": 4.75, "k": 0.51, "c": "b4"}, {"B": 4.93, "k": 0.52, "c": "b4"}, {"B": 5.1, "k": 0.51, "c": "b4"}, {"B": 5.3, "k": 0.51, "c": "b4"}, {"B": 5.5, "k": 0.5, "c": "b4"}, {"B": 5.7, "k": 0.505, "c": "b4"}, {"B": 6.04, "k": 0.496, "c": "b4"}, {"B": 6.2, "k": 0.498, "c": "b4"}, {"B": 6.4, "k": 0.49, "c": "b4"}, {"B": 6.8, "k": 0.48, "c": "b4"}, {"B": 7.0, "k": 0.482, "c": "b4"}, {"B": 7.15, "k": 0.472, "c": "b4"}, {"B": 7.5, "k": 0.465, "c": "b4"}, {"B": 7.94, "k": 0.456, "c": "b4"}, {"B": 8.4, "k": 0.44, "c": "b4"}, {"B": 8.89, "k": 0.424, "c": "b4"}, {"B": 9.2, "k": 0.41, "c": "b4"}, {"B": 9.52, "k": 0.392, "c": "b4"}, {"B": 9.8, "k": 0.375, "c": "b4"}, {"B": 10.0, "k": 0.36, "c": "b4"}, {"B": 10.3, "k": 0.345, "c": "b4"}, {"B": 10.63, "k": 0.335, "c": "b4"}, {"B": 10.85, "k": 0.345, "c": "b4"}, {"B": 11.1, "k": 0.36, "c": "b4"}, {"B": 11.4, "k": 0.38, "c": "b4"}, {"B": 11.73, "k": 0.392, "c": "b4"}, {"B": 12.1, "k": 0.392, "c": "b4"},
      {"B": 0, "k": 0.311, "c": "b5"}, {"B": 0.4, "k": 0.305, "c": "b5"}, {"B": 0.8, "k": 0.308, "c": "b5"}, {"B": 1.29, "k": 0.303, "c": "b5"}, {"B": 1.8, "k": 0.308, "c": "b5"}, {"B": 2.4, "k": 0.305, "c": "b5"}, {"B": 3.0, "k": 0.31, "c": "b5"}, {"B": 3.6, "k": 0.308, "c": "b5"}, {"B": 4.46, "k": 0.311, "c": "b5"}, {"B": 5.0, "k": 0.308, "c": "b5"}, {"B": 5.6, "k": 0.306, "c": "b5"}, {"B": 6.2, "k": 0.305, "c": "b5"}, {"B": 6.83, "k": 0.303, "c": "b5"}, {"B": 7.5, "k": 0.3, "c": "b5"}, {"B": 8.0, "k": 0.298, "c": "b5"}, {"B": 8.41, "k": 0.295, "c": "b5"}, {"B": 8.8, "k": 0.285, "c": "b5"}, {"B": 9.2, "k": 0.271, "c": "b5"}, {"B": 9.5, "k": 0.255, "c": "b5"}, {"B": 9.83, "k": 0.239, "c": "b5"}, {"B": 10.1, "k": 0.23, "c": "b5"}, {"B": 10.31, "k": 0.227, "c": "b5"}, {"B": 10.55, "k": 0.232, "c": "b5"}, {"B": 10.78, "k": 0.247, "c": "b5"}, {"B": 11.1, "k": 0.268, "c": "b5"}, {"B": 11.42, "k": 0.287, "c": "b5"}, {"B": 11.8, "k": 0.296, "c": "b5"}, {"B": 12.1, "k": 0.298, "c": "b5"}
    ],
    "breaks": [
      {"B": -0.05, "k": 0.514, "t": "//"},
      {"B": 12.14, "k": 0.514, "t": "//"}
    ]
  },
  "hconcat": [
    {
      "width": 257,
      "height": 301,
      "layer": [
        {
          "data": {"name": "left"},
          "mark": {"type": "line"},
          "encoding": {
            "x": {"field": "B", "type": "quantitative", "scale": {"domain": [-0.06, 5.055], "nice": false, "zero": false},
              "axis": {"orient": "bottom", "title": null, "values": [0, 1, 2, 3, 4, 5], "labelExpr": "datum.value % 2 == 0 ? datum.label : ''", "tickSize": 5, "labelPadding": 2}},
            "y": {"field": "k", "type": "quantitative", "scale": {"domain": [0.2, 1.4], "nice": false, "zero": false},
              "axis": {"orient": "left", "title": "κ/T (W m⁻¹K⁻²)", "values": [0.2, 0.3, 0.4, 0.5, 0.6, 0.7, 0.8, 0.9, 1.0, 1.1, 1.2, 1.3, 1.4], "labelExpr": "round(datum.value*10) % 2 == 0 ? format(datum.value, '.1f') : ''", "tickSize": 5, "labelPadding": 3, "titlePadding": 9}},
            "detail": {"field": "c"}
          }
        },
        {
          "data": {"name": "arrows"},
          "mark": {"type": "rule", "color": "black", "strokeWidth": 2},
          "encoding": {
            "x": {"field": "x", "type": "quantitative", "scale": {"domain": [-0.06, 5.055], "nice": false, "zero": false},
              "axis": {"orient": "top", "title": null, "values": [0, 1, 2, 3, 4, 5], "labels": false, "tickSize": -6}},
            "y": {"field": "y1", "type": "quantitative", "scale": {"domain": [0.2, 1.4], "nice": false, "zero": false},
              "axis": {"orient": "right", "title": null, "values": [0.2, 0.3, 0.4, 0.5, 0.6, 0.7, 0.8, 0.9, 1.0, 1.1, 1.2, 1.3, 1.4], "labels": false, "tickSize": 5}},
            "y2": {"field": "y2"}
          }
        },
        {
          "data": {"name": "arrows"},
          "mark": {"type": "point", "shape": "triangle-down", "filled": true, "color": "black", "opacity": 1, "size": 30},
          "encoding": {
            "x": {"field": "x", "type": "quantitative", "scale": {"domain": [-0.06, 5.055], "nice": false, "zero": false}, "axis": null},
            "y": {"field": "y2", "type": "quantitative", "scale": {"domain": [0.2, 1.4], "nice": false, "zero": false}, "axis": null}
          }
        }
      ],
      "resolve": {"axis": {"x": "independent", "y": "independent"}}
    },
    {
      "vconcat": [
        {
          "width": 257,
          "height": 66,
          "layer": [
            {
              "data": {"name": "upper"},
              "mark": {"type": "line"},
              "encoding": {
                "x": {"field": "B", "type": "quantitative", "scale": {"domain": [-0.05, 12.14], "nice": false, "zero": false},
                  "axis": {"orient": "top", "title": null, "values": [0, 1, 2, 3, 4, 5, 6, 7, 8, 9, 10, 11, 12], "labels": false, "tickSize": -6}},
                "y": {"field": "k", "type": "quantitative", "scale": {"domain": [0.514, 1.227], "nice": false, "zero": false},
                  "axis": {"orient": "left", "title": null, "values": [0.6, 0.8, 1.0, 1.2], "labels": false, "tickSize": -6}}
              }
            },
            {
              "data": {"name": "breaks"},
              "mark": {"type": "text", "font": "Times New Roman", "fontSize": 18, "fontWeight": "bold", "color": "black", "angle": 25, "dy": 5},
              "encoding": {
                "x": {"field": "B", "type": "quantitative", "scale": {"domain": [-0.05, 12.14], "nice": false, "zero": false}, "axis": null},
                "y": {"field": "k", "type": "quantitative", "scale": {"domain": [0.514, 1.227], "nice": false, "zero": false},
                  "axis": {"orient": "right", "title": null, "values": [0.6, 0.8, 1.0, 1.2], "labelExpr": "datum.value == 0.6 || datum.value == 1 ? format(datum.value, '.1f') : ''", "tickSize": 5, "labelPadding": 2}},
                "text": {"field": "t"}
              }
            }
          ],
          "resolve": {"axis": {"x": "independent", "y": "independent"}}
        },
        {
          "width": 257,
          "height": 230,
          "layer": [
            {
              "data": {"name": "lower"},
              "transform": [{"filter": "datum.c == 'b1' || datum.c == 'b2' || datum.c == 'b3'"}],
              "mark": {"type": "line"},
              "encoding": {
                "x": {"field": "B", "type": "quantitative", "scale": {"domain": [-0.05, 12.14], "nice": false, "zero": false},
                  "axis": {"orient": "bottom", "title": null, "values": [0, 1, 2, 3, 4, 5, 6, 7, 8, 9, 10, 11, 12], "labelExpr": "datum.value % 2 == 0 ? datum.label : ''", "tickSize": 5, "labelPadding": 2}},
                "y": {"field": "k", "type": "quantitative", "scale": {"domain": [0.195, 1.306], "nice": false, "zero": false},
                  "axis": {"orient": "left", "title": null, "values": [0.2, 0.3, 0.4, 0.5, 0.6, 0.7, 0.8, 0.9, 1.0, 1.1, 1.2, 1.3], "labels": false, "tickSize": -6}},
                "detail": {"field": "c"}
              }
            },
            {
              "data": {"name": "lower"},
              "transform": [{"filter": "datum.c == 'b4' || datum.c == 'b5'"}],
              "mark": {"type": "line"},
              "encoding": {
                "x": {"field": "B", "type": "quantitative", "scale": {"domain": [-0.05, 12.14], "nice": false, "zero": false}, "axis": null},
                "y": {"field": "k", "type": "quantitative", "scale": {"domain": [0.195, 1.306], "nice": false, "zero": false},
                  "axis": {"orient": "right", "title": null, "values": [0.2, 0.3, 0.4, 0.5, 0.6, 0.7, 0.8, 0.9, 1.0, 1.1, 1.2, 1.3], "labelExpr": "round(datum.value*10) % 2 == 0 && datum.value < 1.25 ? format(datum.value, '.1f') : ''", "tickSize": 5, "labelPadding": 2}},
                "detail": {"field": "c"}
              }
            }
          ],
          "resolve": {"axis": {"x": "independent", "y": "independent"}}
        }
      ],
      "spacing": 5,
      "bounds": "flush"
    }
  ],
  "spacing": 10,
  "bounds": "flush"
}
